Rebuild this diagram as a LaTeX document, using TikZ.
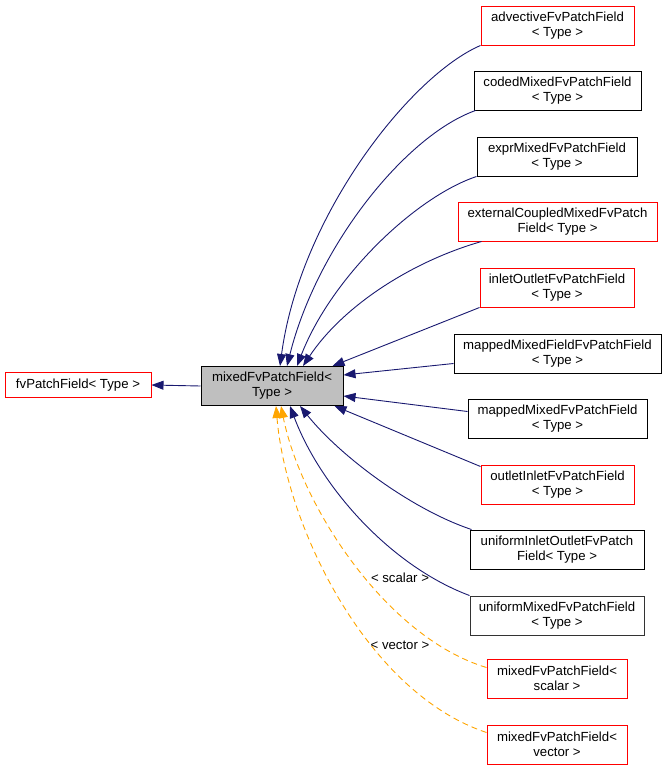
\documentclass[tikz,border=0pt]{standalone}
\usepackage{fontspec}
\setmainfont{Liberation Sans}
\usetikzlibrary{arrows.meta}
\definecolor{edgeblue}{RGB}{25,25,112}
\definecolor{edgeorange}{RGB}{255,165,0}
\definecolor{boxgrey}{RGB}{191,191,191}

\begin{document}
\begin{tikzpicture}[
  x=1pt, y=-1pt,
  every node/.style={font=\fontsize{13.2}{15}\selectfont, align=center, inner sep=0pt},
  cls/.style={draw, line width=1pt, minimum height=39pt},
  redcls/.style={cls, draw=red},
  blackcls/.style={cls, draw=black},
  greycls/.style={cls, draw=black!80},
  inherit/.style={draw=edgeblue, line width=0.9pt, -{Triangle[length=12pt,width=9pt]}},
  templ/.style={draw=edgeorange, line width=0.9pt, dash pattern=on 6pt off 4pt, -{Triangle[length=12pt,width=9pt]}}
]
  \useasboundingbox (0,0) rectangle (667,771);

  % base and current class
  \node[redcls, minimum height=25pt, minimum width=146pt] (fv) at (78,385) {fvPatchField< Type >};
  \node[cls, fill=boxgrey, minimum width=142pt] (mix) at (272,386) {mixedFvPatchField<\\Type >};

  % derived classes
  \node[redcls, minimum width=153pt] (adv) at (557.5,25.5) {advectiveFvPatchField\\< Type >};
  \node[blackcls, minimum width=167pt] (coded) at (557.5,90.5) {codedMixedFvPatchField\\< Type >};
  \node[blackcls, minimum width=160pt] (expr) at (557,156.5) {exprMixedFvPatchField\\< Type >};
  \node[redcls, minimum width=199pt] (ext) at (557.5,221.5) {externalCoupledMixedFvPatch\\Field< Type >};
  \node[redcls, minimum width=154pt] (inout) at (557,287.5) {inletOutletFvPatchField\\< Type >};
  \node[blackcls, minimum width=207pt] (mmfield) at (557.5,353.5) {mappedMixedFieldFvPatchField\\< Type >};
  \node[blackcls, minimum width=179pt] (mmixed) at (557.5,418.5) {mappedMixedFvPatchField\\< Type >};
  \node[redcls, minimum width=153pt] (outin) at (557.5,484.5) {outletInletFvPatchField\\< Type >};
  \node[blackcls, minimum width=174pt] (uinout) at (557,549.5) {uniformInletOutletFvPatch\\Field< Type >};
  \node[greycls, minimum width=174pt] (umixed) at (557,615.5) {uniformMixedFvPatchField\\< Type >};
  \node[redcls, minimum width=140pt] (scal) at (557,678.5) {mixedFvPatchField<\\scalar >};
  \node[redcls, minimum width=140pt] (vect) at (557,744.5) {mixedFvPatchField<\\vector >};

  % inheritance
  \draw[inherit] (mix.west) -- (fv.east);
  \draw[inherit] (adv.south west) .. controls +(-70,30) and +(20,-150) .. ([xshift=8pt]mix.north);
  \draw[inherit] ([xshift=2pt]coded.south west) .. controls +(-70,25) and +(30,-120) .. ([xshift=15pt]mix.north);
  \draw[inherit] (expr.south west) .. controls +(-60,20) and +(35,-90) .. ([xshift=25pt]mix.north);
  \draw[inherit] ([xshift=24pt]ext.south west) .. controls +(-70,20) and +(40,-60) .. ([xshift=31pt]mix.north);
  \draw[inherit] (inout.south west) -- ([xshift=-11pt]mix.north east);
  \draw[inherit] ([yshift=-10pt]mmfield.west) -- ([yshift=-9pt]mix.north east);
  \draw[inherit] ([yshift=-13pt]mmixed.north west) -- ([yshift=10pt]mix.south east);
  \draw[inherit] ([yshift=-2pt]outin.north west) -- ([xshift=-9pt]mix.south east);
  \draw[inherit] ([xshift=2pt]uinout.north west) .. controls +(-60,-20) and +(40,50) .. ([xshift=28pt]mix.south);
  \draw[inherit] (umixed.north west) .. controls +(-80,-30) and +(30,80) .. ([xshift=18pt]mix.south);

  % template instances
  \draw[templ] ([yshift=-9pt]scal.north west) .. controls +(-100,-30) and +(20,100) .. ([xshift=9pt]mix.south);
  \draw[templ] ([yshift=-8pt]vect.north west) .. controls +(-120,-40) and +(10,120) .. ([xshift=4pt]mix.south);
  \node (lscal) at (400,578) {< scalar >};
  \node (lvect) at (400,645) {< vector >};
\end{tikzpicture}
\end{document}
